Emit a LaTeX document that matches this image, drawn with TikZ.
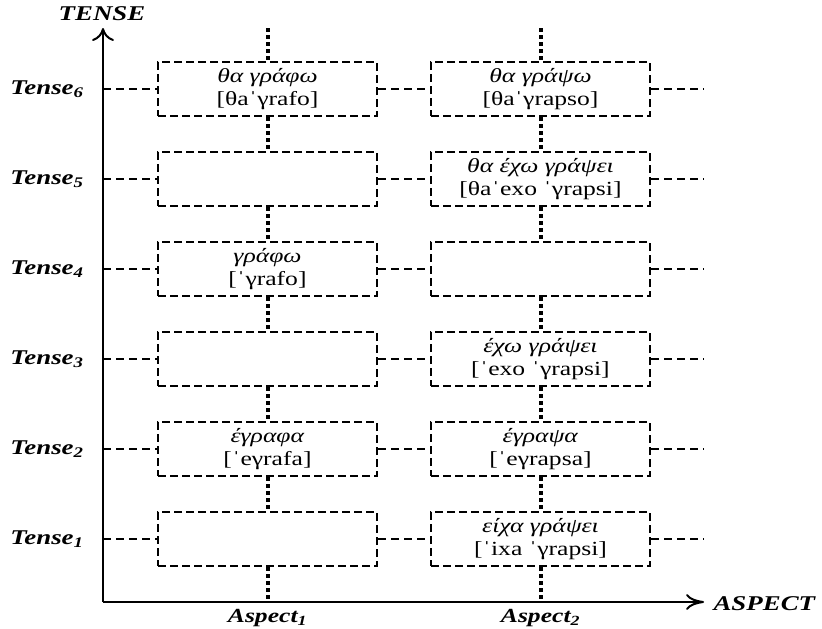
\documentclass[tikz,border=0pt]{standalone}
\usepackage{fontspec}
\setmainfont{Liberation Serif}[FakeStretch=1.28]
\usetikzlibrary{arrows.meta}
\begin{document}
\begin{tikzpicture}[x=1pt,y=-1pt,
  box/.style={draw, line width=2.8pt, dash pattern=on 8pt off 4pt, minimum width=219pt, minimum height=54pt, inner sep=0pt, align=center, font=\fontsize{20}{23}\selectfont},
  vdot/.style={line width=4pt, dash pattern=on 4pt off 3pt},
  hdash/.style={line width=2pt, dash pattern=on 8pt off 5pt},
  vaxis/.style={line width=2.5pt, -{To[length=13pt,width=22pt,line width=2pt]}},
  haxis/.style={line width=2.5pt, -{To[length=18pt,width=16pt,line width=2pt]}},
  tlab/.style={font=\fontsize{21}{21}\selectfont\bfseries\itshape},
  alab/.style={font=\fontsize{20}{20}\selectfont\bfseries\itshape}]
\useasboundingbox (0,0) rectangle (822,629);
% axes
\coordinate (O) at (103,602);
\coordinate (ytip) at (103,28);
\coordinate (xtip) at (704,602);
\draw[vaxis] (O) -- (ytip);
\draw[haxis] (O) -- (xtip);
\node[tlab, anchor=base] (tense) at (102,20) {TENSE};
\node[tlab, anchor=base west] (aspect) at (710,610) {ASPECT};
% boxes
\node[box] (a6) at (267.5,89) {\textit{θα γράφω}\\{[θaˈγrafo]}};
\node[box] (b6) at (540.5,89) {\textit{θα γράψω}\\{[θaˈγrapso]}};
\node[box] (a5) at (267.5,179) {};
\node[box] (b5) at (540.5,179) {\textit{θα έχω γράψει}\\{[θaˈexo ˈγrapsi]}};
\node[box] (a4) at (267.5,269) {\textit{γράφω}\\{[ˈγrafo]}};
\node[box] (b4) at (540.5,269) {};
\node[box] (a3) at (267.5,359) {};
\node[box] (b3) at (540.5,359) {\textit{έχω γράψει}\\{[ˈexo ˈγrapsi]}};
\node[box] (a2) at (267.5,449) {\textit{έγραφα}\\{[ˈeγrafa]}};
\node[box] (b2) at (540.5,449) {\textit{έγραψα}\\{[ˈeγrapsa]}};
\node[box] (a1) at (267.5,539) {};
\node[box] (b1) at (540.5,539) {\textit{είχα γράψει}\\{[ˈixa ˈγrapsi]}};
% tense labels
\foreach \i/\y in {6/89,5/179,4/269,3/359,2/449,1/539}{
  \node[tlab] (t\i) at (47,\y) {Tense\textsubscript{\i}};
  \coordinate (l\i) at (103,\y);
  \coordinate (r\i) at (704,\y);
  \draw[hdash] (l\i) -- (a\i.west);
  \draw[hdash] (a\i.east) -- (b\i.west);
  \draw[hdash] (b\i.east) -- (r\i);
}
% aspect labels
\node[alab, anchor=base] (asp1) at (267.5,622) {Aspect\textsubscript{1}};
\node[alab, anchor=base] (asp2) at (540.5,622) {Aspect\textsubscript{2}};
% vertical dotted connectors
\coordinate (ta) at (267.5,28);
\coordinate (tb) at (540.5,28);
\coordinate (ba) at (267.5,602);
\coordinate (bb) at (540.5,602);
\draw[vdot] (ta) -- (a6.north);
\draw[vdot] (tb) -- (b6.north);
\draw[vdot] (a6.south) -- (a5.north);
\draw[vdot] (a5.south) -- (a4.north);
\draw[vdot] (a4.south) -- (a3.north);
\draw[vdot] (a3.south) -- (a2.north);
\draw[vdot] (a2.south) -- (a1.north);
\draw[vdot] (a1.south) -- (ba);
\draw[vdot] (b6.south) -- (b5.north);
\draw[vdot] (b5.south) -- (b4.north);
\draw[vdot] (b4.south) -- (b3.north);
\draw[vdot] (b3.south) -- (b2.north);
\draw[vdot] (b2.south) -- (b1.north);
\draw[vdot] (b1.south) -- (bb);
\end{tikzpicture}
\end{document}
